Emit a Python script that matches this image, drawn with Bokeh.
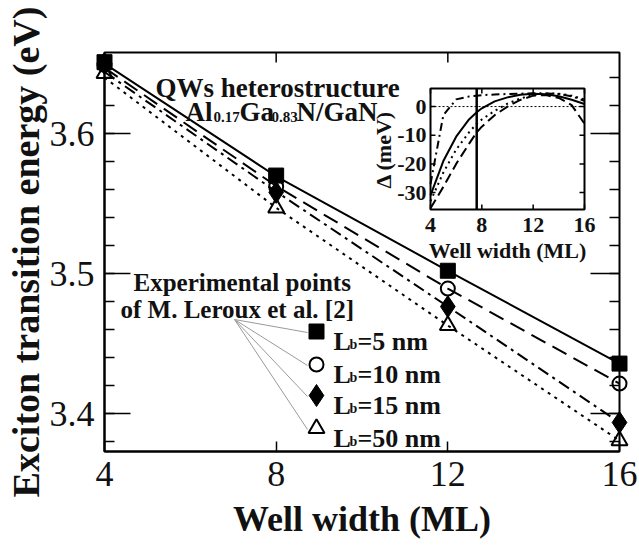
import math
from bokeh.plotting import figure
from bokeh.models import Range1d, Label, FixedTicker
from bokeh.embed import file_html
from bokeh.resources import INLINE

# ---------------- data ----------------
well_width = [4, 8, 12, 16]
# calculated curves (eV)
calc_lb5 = [3.650, 3.5695, 3.502, 3.4357]
calc_lb10 = [3.647, 3.5625, 3.4893, 3.4214]
calc_lb15 = [3.644, 3.5585, 3.4764, 3.3936]
calc_lb50 = [3.640, 3.5470, 3.4629, 3.3807]
# experimental points (eV)
exp_lb5 = [3.651, 3.570, 3.502, 3.4357]
exp_lb10 = [3.649, 3.562, 3.4893, 3.4214]
exp_lb15 = [3.650, 3.558, 3.4764, 3.3936]
exp_lb50 = [3.643, 3.547, 3.4629, 3.3807]
legend_labels = ["=5 nm", "=10 nm", "=15 nm", "=50 nm"]

# inset: deviation (meV) vs well width
inset_width = [4, 5, 6, 7, 7.6, 8, 9, 10, 11, 12, 13, 14, 15, 16]
delta_lb5 = [-31, -19, -10.5, -4.5, -2, -0.6, 1.8, 3.2, 4.1, 4.5, 4.3, 3.6, 2.4, 0.9]
delta_lb10 = [-35.5, -28, -20, -13, -9, -7, -3, 0, 2.3, 3.8, 4.0, 3.0, 0.5, -6]
delta_lb15 = [-27, -3, 2.5, 3.5, 3.8, 4.0, 4.2, 4.4, 4.5, 4.6, 4.6, 4.4, 3.6, 2.0]
delta_lb50 = [-33, -23, -15, -9, -6, -4.5, -1.5, 1.0, 2.8, 4.0, 4.6, 4.5, 3.8, 2.5]
inset_vline = 7.6

x_ticks = [4, 8, 12, 16]
y_ticks = [3.4, 3.5, 3.6]
y_minor = [round(3.38 + 0.02 * i, 2) for i in range(14)]
inset_x_ticks = [4, 8, 12, 16]
inset_y_ticks = [-30, -20, -10, 0]

# ---------------- layout helpers ----------------
FONT = "Liberation Serif"
X_LO, X_HI = 4, 16
Y_LO, Y_HI = 3.3729, 3.6579
FX0, FX1, FY0, FY1 = 104, 619, 52, 451  # frame in page pixels
DX = (X_HI - X_LO) / (FX1 - FX0)  # data per pixel
DY = (Y_HI - Y_LO) / (FY1 - FY0)


def px(xp):
    return X_LO + (xp - FX0) * DX


def py(yp):
    return Y_HI - (yp - FY0) * DY


W, H = 639, 549
p = figure(width=W, height=H, output_backend="svg", toolbar_location=None,
           x_range=Range1d(X_LO, X_HI), y_range=Range1d(Y_LO, Y_HI),
           min_border_left=FX0, min_border_right=W - FX1,
           min_border_top=FY0, min_border_bottom=H - FY1)
p.xgrid.visible = False
p.ygrid.visible = False
p.outline_line_color = "black"
p.outline_line_width = 2
p.background_fill_color = "white"
p.border_fill_color = "white"

xa = p.xaxis[0]
xa.ticker = FixedTicker(ticks=x_ticks, minor_ticks=[])
xa.major_tick_in = 10
xa.major_tick_out = 0
xa.minor_tick_in = 0
xa.minor_tick_out = 0
xa.major_label_standoff = 10
ya = p.yaxis[0]
ya.ticker = FixedTicker(ticks=y_ticks, minor_ticks=y_minor)
ya.major_tick_in = 26
ya.major_tick_out = 0
ya.minor_tick_in = 10
ya.minor_tick_out = 0
ya.major_label_standoff = 10
xa.axis_label = "Well width (ML)"
ya.axis_label = "Exciton transition energy (eV)"
for ax in (xa, ya):
    ax.axis_line_width = 2
    ax.major_tick_line_width = 1.5
    ax.minor_tick_line_width = 1.5
    ax.major_label_text_font = FONT
    ax.major_label_text_font_size = "36px"
    ax.major_label_text_color = "#111111"
    ax.axis_label_text_font = FONT
    ax.axis_label_text_font_style = "bold"
    ax.axis_label_text_color = "#111111"
    ax.axis_label_standoff = 0
xa.axis_label_text_font_size = "36px"
xa.axis_label_standoff = 10
ya.axis_label_text_font_size = "38px"

# mirrored ticks on top and right frame edges
top_t = [t for t in x_ticks if X_LO < t < X_HI]
p.segment(x0=top_t, y0=[Y_HI] * len(top_t), x1=top_t, y1=[Y_HI - 10 * DY] * len(top_t),
          line_color="black", line_width=1.5)
p.segment(x0=[X_HI] * len(y_ticks), y0=y_ticks, x1=[X_HI - 29 * DX] * len(y_ticks), y1=y_ticks,
          line_color="black", line_width=1.5)
p.segment(x0=[X_HI] * len(y_minor), y0=y_minor, x1=[X_HI - 10 * DX] * len(y_minor), y1=y_minor,
          line_color="black", line_width=1.5)

# calculated lines
p.line(well_width, calc_lb5, line_color="black", line_width=2)
p.line(well_width, calc_lb10, line_color="black", line_width=2, line_dash="16 8")
p.line(well_width, calc_lb15, line_color="black", line_width=2, line_dash="12 5 3 5")
p.line(well_width, calc_lb50, line_color="black", line_width=2, line_dash="3 5")

# experimental points (drawn unclipped so they overhang the frame like the original)
p.scatter(well_width, exp_lb5, marker="square", size=15, fill_color="black",
          line_color="black", level="overlay")
p.scatter(well_width, exp_lb10, marker="circle", size=14, fill_color="white", fill_alpha=0,
          line_color="black", line_width=2, level="overlay")
p.scatter(well_width, exp_lb15, marker="diamond", size=22, fill_color="black",
          line_color="black", level="overlay")
p.scatter(well_width, exp_lb50, marker="triangle", size=16, fill_color="white", fill_alpha=0,
          line_color="black", line_width=2, level="overlay")


def lab(xp, yp, text, size, bold=True, align="left"):
    p.add_layout(Label(x=px(xp), y=py(yp), text=text, text_font=FONT,
                       text_font_size=f"{size}px",
                       text_font_style="bold" if bold else "normal",
                       text_color="#111111", text_align=align,
                       text_baseline="alphabetic"))


# title
lab(155, 87, "QWs heterostructure", 27)
lab(185, 111, "Al", 27)
lab(213, 116, "0.17", 15)
lab(239, 111, "Ga", 27)
lab(271, 116, "0.83", 15)
lab(296, 111, "N/GaN", 27)

# legend
lab(133, 282, "Experimental points", 25)
lab(120, 309, "of M. Leroux et al. [2]", 25)
rows = [331, 364, 395, 428]
fan_x0, fan_y0 = px(234), py(319)
for r in rows:
    p.line([fan_x0, px(307)], [fan_y0, py(r + 1)], line_color="#9a9a9a", line_width=1)
leg_x = px(316)
p.scatter([leg_x], [py(rows[0])], marker="square", size=15, fill_color="black", line_color="black")
p.scatter([leg_x], [py(rows[1])], marker="circle", size=14, fill_color="white", line_color="black", line_width=2)
p.scatter([leg_x], [py(rows[2])], marker="diamond", size=22, fill_color="black", line_color="black")
p.scatter([leg_x], [py(rows[3])], marker="triangle", size=16, fill_color="white", line_color="black", line_width=2)
for r, t in zip(rows, legend_labels):
    lab(333, r + 10, "L", 26)
    lab(349, r + 13, "b", 14)
    lab(357, r + 10, t, 26)

# ---------------- inset (sub-coordinates inside the main frame) ----------------
IX0, IX1, IY0, IY1 = 430, 584, 88, 209  # inset frame in page pixels
IXL, IXH = 4, 16
IYL, IYH = -35.9, 6.3
sub = p.subplot(x_source=Range1d(IXL, IXH), y_source=Range1d(IYL, IYH),
                x_target=Range1d(px(IX0), px(IX1)), y_target=Range1d(py(IY1), py(IY0)))
idx = (IXH - IXL) / (IX1 - IX0)
idy = (IYH - IYL) / (IY1 - IY0)

sub.quad(left=[IXL], right=[IXH], bottom=[IYL], top=[IYH], fill_color="white",
         line_color="black", line_width=2)
# inset ticks (inward, all four sides)
n = len(inset_x_ticks)
sub.segment(x0=inset_x_ticks, y0=[IYL] * n, x1=inset_x_ticks, y1=[IYL + 5 * idy] * n,
            line_color="black", line_width=1.5)
sub.segment(x0=inset_x_ticks, y0=[IYH] * n, x1=inset_x_ticks, y1=[IYH - 5 * idy] * n,
            line_color="black", line_width=1.5)
m = len(inset_y_ticks)
sub.segment(x0=[IXL] * m, y0=inset_y_ticks, x1=[IXL + 5 * idx] * m, y1=inset_y_ticks,
            line_color="black", line_width=1.5)
sub.segment(x0=[IXH] * m, y0=inset_y_ticks, x1=[IXH - 5 * idx] * m, y1=inset_y_ticks,
            line_color="black", line_width=1.5)
# reference lines
sub.segment(x0=[IXL], y0=[0], x1=[IXH], y1=[0], line_color="black", line_width=1, line_dash="2 2")
sub.segment(x0=[inset_vline], y0=[IYL], x1=[inset_vline], y1=[IYH], line_color="black", line_width=2.5)
# inset curves
sub.line(inset_width, delta_lb5, line_color="black", line_width=2)
sub.line(inset_width, delta_lb10, line_color="black", line_width=2, line_dash="10 5")
sub.line(inset_width, delta_lb15, line_color="black", line_width=2, line_dash="8 4 2 4")
sub.line(inset_width, delta_lb50, line_color="black", line_width=2, line_dash="2 4")
# inset tick labels and axis titles
sub.text(x=inset_x_ticks, y=[IYL] * n, text=[str(t) for t in inset_x_ticks],
         y_offset=8, text_align="center", text_baseline="top",
         text_font=FONT, text_font_style="bold", text_font_size="22px", text_color="#111111")
sub.text(x=[IXL] * m, y=inset_y_ticks, text=[str(t) for t in inset_y_ticks],
         x_offset=-4, text_align="right", text_baseline="middle",
         text_font=FONT, text_font_style="bold", text_font_size="22px", text_color="#111111")
sub.text(x=[(IXL + IXH) / 2], y=[IYL], text=["Well width (ML)"],
         y_offset=28, text_align="center", text_baseline="top",
         text_font=FONT, text_font_style="bold", text_font_size="22px", text_color="#111111")
sub.text(x=[IXL], y=[-15], text=["\u0394 (meV)"], angle=math.pi / 2,
         x_offset=-47, text_align="center", text_baseline="middle",
         text_font=FONT, text_font_style="bold", text_font_size="22px", text_color="#111111")

open("out.html", "w").write(file_html(p, INLINE))
